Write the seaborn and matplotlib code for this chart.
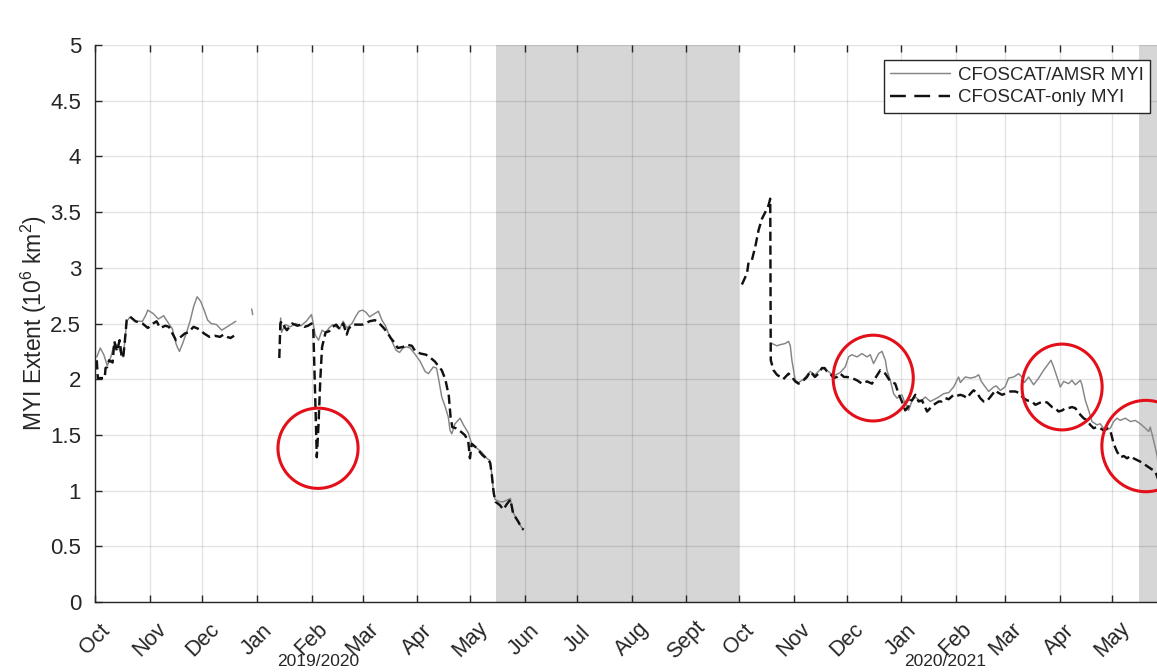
import numpy as np
import pandas as pd
import matplotlib
matplotlib.use("Agg")
import matplotlib.pyplot as plt
import matplotlib.dates as mdates
from matplotlib.lines import Line2D
from matplotlib.patches import Ellipse
import seaborn as sns

# ---------------------------------------------------------------
# Multi-year ice extent (10^6 km^2); days counted from 1 October of
# each season, NaN marks a break in the record.
# ---------------------------------------------------------------
season1_start = "2019-10-01"
season2_start = "2020-10-01"

s1_amsr_days = [1, 3, 5, 7, 9, 11, 13, 15, 16, 17, 18, 20, 23, 27, 29, 30, 33, 36, 39, 41,
                44, 46, 47, 48, 50, 52, 54, 56, 58, 60, 62, 64, 66, 69, 72, 75, 78, 80,
                84, 89, 89.6, 97,
                105, 105.5, 106, 108, 111, 114, 117, 120, 122, 123, 124, 125, 127, 129, 131,
                133, 135, 137, 139, 141, 143, 146, 148, 150, 152, 154, 156, 159, 161, 163,
                165, 167, 169, 171, 173, 175, 177, 179, 182, 184.7, 187.5, 189.4, 192.2,
                194, 195, 197, 199, 200.7, 201.7, 202.7, 204.5, 207.4, 209.3, 212, 214,
                217, 220, 222.6, 224.4, 225.4, 226.3, 227.3, 230, 232, 234.8, 236, 237,
                239, 241, 243.3]
s1_amsr_vals = [2.20, 2.28, 2.22, 2.12, 2.20, 2.32, 2.30, 2.22, 2.20, 2.35, 2.52, 2.56, 2.52,
                2.52, 2.58, 2.62, 2.59, 2.54, 2.57, 2.52, 2.45, 2.32, 2.28, 2.25, 2.33, 2.42,
                2.52, 2.65, 2.74, 2.70, 2.62, 2.53, 2.50, 2.49, 2.44, 2.47, 2.50, 2.52,
                np.nan, 2.63, 2.58, np.nan,
                2.45, 2.55, 2.42, 2.49, 2.47, 2.50, 2.48, 2.52, 2.56, 2.58, 2.50, 2.40, 2.35,
                2.44, 2.42, 2.46, 2.49, 2.47, 2.45, 2.52, 2.46, 2.50, 2.56, 2.61, 2.62, 2.60,
                2.56, 2.59, 2.61, 2.53, 2.48, 2.40, 2.33, 2.26, 2.24, 2.28, 2.29, 2.28, 2.22,
                2.16, 2.07, 2.05, 2.11, 2.10, 2.02, 1.84, 1.75, 1.66, 1.54, 1.51, 1.60, 1.65,
                1.59, 1.52, 1.42, 1.38, 1.34, 1.29, 1.27, 1.15, 1.00, 0.92, 0.90, 0.90, 0.92,
                0.93, 0.82, 0.76, 0.70, 0.65]

s1_only_days = [1, 1.6, 5.5, 6, 7, 8, 10, 11, 12.5, 14, 15, 16, 17, 18, 20, 23, 27, 30, 33,
                35, 37, 40, 42, 44, 46, 48, 51, 53, 56, 59, 62, 65, 68, 71, 73, 75, 77, 79,
                92,
                104.7, 105.3, 106, 108, 109, 112, 115, 117, 119, 121, 123, 124, 125, 126,
                127, 128, 129, 131, 133, 135, 137, 139, 141, 143, 144, 146, 149, 152, 156,
                159, 161, 164, 166, 168, 170, 172, 175, 177, 180, 182, 185, 188, 190, 193,
                197, 199, 201, 202, 203, 205, 207, 210, 212, 213, 214, 217, 220, 223, 224.5,
                225.5, 226.5, 227.5, 230, 232, 234, 236, 237.5, 238.5, 240.5, 242.5, 243.5]
s1_only_vals = [2.17, 2.01, 2.01, 2.10, 2.11, 2.17, 2.15, 2.34, 2.25, 2.35, 2.22, 2.19, 2.35,
                2.53, 2.56, 2.52, 2.50, 2.46, 2.50, 2.52, 2.46, 2.48, 2.47, 2.41, 2.35, 2.37,
                2.41, 2.42, 2.47, 2.45, 2.41, 2.38, 2.39, 2.38, 2.40, 2.38, 2.37, 2.39,
                np.nan,
                2.19, 2.50, 2.52, 2.46, 2.44, 2.50, 2.48, 2.49, 2.47, 2.48, 2.50, 2.45, 1.90,
                1.30, 1.60, 2.00, 2.29, 2.42, 2.43, 2.47, 2.49, 2.45, 2.50, 2.40, 2.45, 2.49,
                2.49, 2.49, 2.52, 2.53, 2.51, 2.46, 2.42, 2.37, 2.33, 2.28, 2.29, 2.31, 2.30,
                2.25, 2.23, 2.22, 2.20, 2.16, 2.08, 2.00, 1.85, 1.66, 1.57, 1.56, 1.54, 1.50,
                1.45, 1.29, 1.42, 1.38, 1.32, 1.28, 1.25, 1.13, 0.98, 0.90, 0.87, 0.83, 0.88,
                0.92, 0.80, 0.77, 0.72, 0.66, 0.65]

s2_amsr_days = [18.6, 21.4, 23.3, 26, 28, 29, 29.9, 31.8, 33.7, 36.5, 40.3, 43, 47, 49.8,
                53.6, 57.4, 60.2, 62.1, 64, 66.9, 69.7, 72.6, 74.4, 76.3, 79.2, 81.1, 83,
                83.9, 85.8, 87.7, 89.6, 92.4, 94.3, 96.2, 98, 100, 103, 105.7, 108.5, 111,
                113.3, 116.1, 119, 121.8, 124.6, 125.6, 128.4, 131.3, 134.1, 136, 137.5,
                139.8, 141.7, 144.5, 146, 148.3, 151, 153, 155.9, 158.7, 160.6, 162, 164.4,
                167.2, 170.1, 172.9, 175.7, 177.1, 178.6, 180.5, 182.4, 184.3, 187.1, 189,
                190.9, 193.8, 194.7, 196.6, 198.5, 200.4, 203.2, 205, 208, 210.8, 212.7,
                214.6, 216.5, 219.3, 222.2, 225, 227.8, 230.7, 232.6, 233.5, 235.4, 237.3,
                239, 241]
s2_amsr_vals = [2.32, 2.30, 2.31, 2.32, 2.34, 2.30, 2.17, 1.99, 1.97, 2.00, 2.07, 2.04, 2.10,
                2.08, 2.03, 2.06, 2.11, 2.20, 2.22, 2.20, 2.23, 2.20, 2.22, 2.14, 2.23, 2.25,
                2.17, 2.08, 1.99, 1.87, 1.83, 1.86, 1.78, 1.72, 1.80, 1.84, 1.80, 1.84, 1.80,
                1.82, 1.84, 1.87, 1.88, 1.93, 2.02, 1.97, 2.02, 2.01, 2.02, 2.04, 1.98, 1.93,
                1.89, 1.93, 1.94, 1.90, 1.93, 2.01, 2.02, 2.05, 2.02, 1.97, 2.02, 1.95, 2.01,
                2.08, 2.14, 2.17, 2.11, 2.02, 1.93, 1.98, 1.96, 1.99, 1.95, 1.99, 1.95, 1.81,
                1.72, 1.62, 1.59, 1.60, 1.54, 1.56, 1.62, 1.65, 1.63, 1.65, 1.62, 1.63, 1.60,
                1.56, 1.53, 1.57, 1.45, 1.32, 1.10, 1.00]

s2_only_days = [1.5, 4.4, 5.3, 7.2, 9.1, 11, 12.9, 14.8, 16.6, 17.6, 17.9, 19.5, 21.4, 23.3,
                25, 28, 29.9, 31.8, 33.7, 36.5, 38.5, 40.3, 43, 45, 47, 48.5, 49.8, 51.7,
                53.6, 55.5, 57.4, 59.5, 61.2, 64, 66.9, 69.7, 72.6, 75.4, 77.3, 80.1, 83,
                85.8, 88.6, 90.5, 92.4, 94.3, 96, 97.2, 98.1, 100, 101.9, 103.8, 106.7,
                108.5, 110.4, 113.3, 115, 117.1, 119, 121.8, 123.5, 125.6, 127.5, 129.4,
                131.3, 133.1, 135, 136.9, 138.8, 140.5, 142.6, 145.5, 147, 149.3, 151, 154,
                156.8, 158.5, 161.5, 163.5, 166.3, 168.2, 171, 172.9, 175, 177.7, 179.5,
                181.4, 183.5, 185.2, 187, 189, 190.9, 191.9, 193.8, 195.6, 197.6, 199.4,
                201.3, 203, 205.1, 207, 208.9, 210.8, 212.7, 214.6, 216.5, 218.5, 220.3,
                222.2, 224, 227.8, 230.7, 233.5, 236.4, 238, 240]
s2_only_vals = [2.85, 2.95, 3.05, 3.07, 3.19, 3.34, 3.44, 3.50, 3.56, 3.62, 2.17, 2.08, 2.04,
                2.02, 2.00, 2.05, 2.02, 1.98, 1.96, 1.99, 2.02, 2.07, 2.02, 2.05, 2.10, 2.10,
                2.07, 2.05, 2.01, 2.02, 2.05, 2.02, 2.02, 2.01, 1.99, 1.96, 1.98, 1.96, 2.01,
                2.08, 2.05, 1.98, 1.96, 1.87, 1.80, 1.72, 1.75, 1.81, 1.81, 1.86, 1.80, 1.81,
                1.71, 1.74, 1.77, 1.80, 1.80, 1.83, 1.82, 1.86, 1.85, 1.86, 1.85, 1.83, 1.87,
                1.90, 1.88, 1.83, 1.80, 1.80, 1.84, 1.90, 1.88, 1.86, 1.87, 1.89, 1.89, 1.88,
                1.83, 1.81, 1.80, 1.77, 1.79, 1.80, 1.79, 1.75, 1.74, 1.71, 1.72, 1.74, 1.74,
                1.75, 1.74, 1.72, 1.68, 1.65, 1.63, 1.59, 1.56, 1.57, 1.56, 1.54, 1.56, 1.54,
                1.42, 1.35, 1.30, 1.31, 1.29, 1.31, 1.29, 1.26, 1.23, 1.20, 1.17, 1.10, 1.00]

series_names = ["CFOSCAT/AMSR MYI", "CFOSCAT-only MYI"]
month_labels = ["Oct", "Nov", "Dec", "Jan", "Feb", "Mar", "Apr", "May", "Jun", "Jul",
                "Aug", "Sept", "Oct", "Nov", "Dec", "Jan", "Feb", "Mar", "Apr", "May"]
season_labels = ["2019/2020", "2020/2021"]
y_ticks = [0, 0.5, 1, 1.5, 2, 2.5, 3, 3.5, 4, 4.5, 5]
y_tick_labels = ["0", "0.5", "1", "1.5", "2", "2.5", "3", "3.5", "4", "4.5", "5"]

# Periods without scatterometer retrieval (melt season)
melt_periods = [("2020-05-16", "2020-10-01"), ("2021-05-16", "2021-07-01")]

# Highlighted discrepancies: (season start, day, value, width in days, height)
highlights = [(season1_start, 126.7, 1.38, 45.5, 0.72),
              (season2_start, 76.1, 2.01, 45.5, 0.77),
              (season2_start, 183.4, 1.93, 45.5, 0.77),
              (season2_start, 231.0, 1.40, 50.0, 0.82)]


def to_frame(start, days, vals, name):
    d = np.asarray(days, dtype=float)
    v = np.asarray(vals, dtype=float)
    seg = np.cumsum(np.isnan(v))
    df = pd.DataFrame({
        "date": pd.Timestamp(start) + pd.to_timedelta(d, unit="D"),
        "extent": v,
        "series": name,
        "segment": [f"{name}|{start}|{s}" for s in seg],
    })
    return df.dropna(subset=["extent"])


data = pd.concat([
    to_frame(season1_start, s1_amsr_days, s1_amsr_vals, series_names[0]),
    to_frame(season2_start, s2_amsr_days, s2_amsr_vals, series_names[0]),
    to_frame(season1_start, s1_only_days, s1_only_vals, series_names[1]),
    to_frame(season2_start, s2_only_days, s2_only_vals, series_names[1]),
], ignore_index=True)

sns.set_theme(style="ticks")
plt.rcParams["font.family"] = ["Liberation Sans", "DejaVu Sans"]
plt.rcParams["mathtext.fontset"] = "custom"
plt.rcParams["mathtext.rm"] = "Liberation Sans"
plt.rcParams["mathtext.it"] = "Liberation Sans:italic"

fig = plt.figure(figsize=(11.57, 6.72), dpi=100)
ax_left, ax_right, ax_top, ax_bottom = 95, 1167, 45, 602
W, H = 1157, 672
ax = fig.add_axes([ax_left / W, 1 - ax_bottom / H,
                   (ax_right - ax_left) / W, (ax_bottom - ax_top) / H])

gray_c = "#858585"
black_c = "#111111"
text_c = "#262626"

for a, b in melt_periods:
    ax.axvspan(pd.Timestamp(a), pd.Timestamp(b), color="#d6d6d6", lw=0, zorder=0.2)

sns.lineplot(data=data, x="date", y="extent", hue="series", style="series",
             size="series", units="segment", estimator=None, sort=False,
             palette={series_names[0]: gray_c, series_names[1]: black_c},
             dashes={series_names[0]: "", series_names[1]: (3.8, 1.9)},
             sizes={series_names[0]: 1.05, series_names[1]: 1.75},
             legend=False, ax=ax)

for start, day, val, w, h in highlights:
    cx = mdates.date2num(pd.Timestamp(start) + pd.Timedelta(days=day))
    ax.add_patch(Ellipse((cx, val), w, h, fill=False, edgecolor="#e3101a",
                         lw=2.2, zorder=5, clip_on=False))

month_starts = pd.date_range("2019-10-01", "2021-05-01", freq="MS")
ax.set_xlim(pd.Timestamp("2019-10-01"), pd.Timestamp("2021-06-01"))
ax.set_ylim(0, 5)
ax.set_xticks(month_starts)
ax.set_xticklabels(month_labels)
ax.set_yticks(y_ticks)
ax.set_yticklabels(y_tick_labels)
ax.set_xlabel("")
ax.set_ylabel("MYI Extent (10$^6$ km$^2$)", fontsize=16.5, color=text_c)
ax.yaxis.set_label_coords((49 - ax_left) / (ax_right - ax_left), 0.5)

ax.grid(True, color="black", alpha=0.11, lw=1.0)
ax.set_axisbelow(True)

for side in ["left", "bottom"]:
    ax.spines[side].set_color(text_c)
    ax.spines[side].set_linewidth(1.0)
ax.spines["right"].set_visible(False)
ax.spines["top"].set_visible(False)

ax.tick_params(axis="both", direction="in", length=5, width=1.0, color=text_c,
               labelcolor=text_c)
ax.tick_params(axis="x", top=True, pad=27, labelsize=15.5)
ax.tick_params(axis="y", pad=10, labelsize=16)
for lab in ax.get_xticklabels():
    lab.set_rotation(45)
    lab.set_ha("center")
    lab.set_va("center")
    lab.set_rotation_mode("anchor")

for label, xpix in zip(season_labels, [318, 945]):
    fig.text(xpix / W, 1 - 661 / H, label, ha="center", va="center",
             fontsize=12.5, color=text_c)

handles = [Line2D([], [], color=gray_c, lw=1.05),
           Line2D([], [], color=black_c, lw=1.75, dashes=(6.5, 3.5))]
leg = ax.legend(handles, series_names, loc="upper right",
                bbox_to_anchor=(1150 / W, 1 - 60 / H), bbox_transform=fig.transFigure,
                borderaxespad=0, fontsize=13.5, frameon=True, fancybox=False,
                edgecolor=text_c, framealpha=1, handlelength=3.2,
                handletextpad=0.4, borderpad=0.35, labelspacing=0.3)
leg.get_frame().set_linewidth(1.0)
for t in leg.get_texts():
    t.set_color(text_c)

fig.savefig("out.png", dpi=100)
